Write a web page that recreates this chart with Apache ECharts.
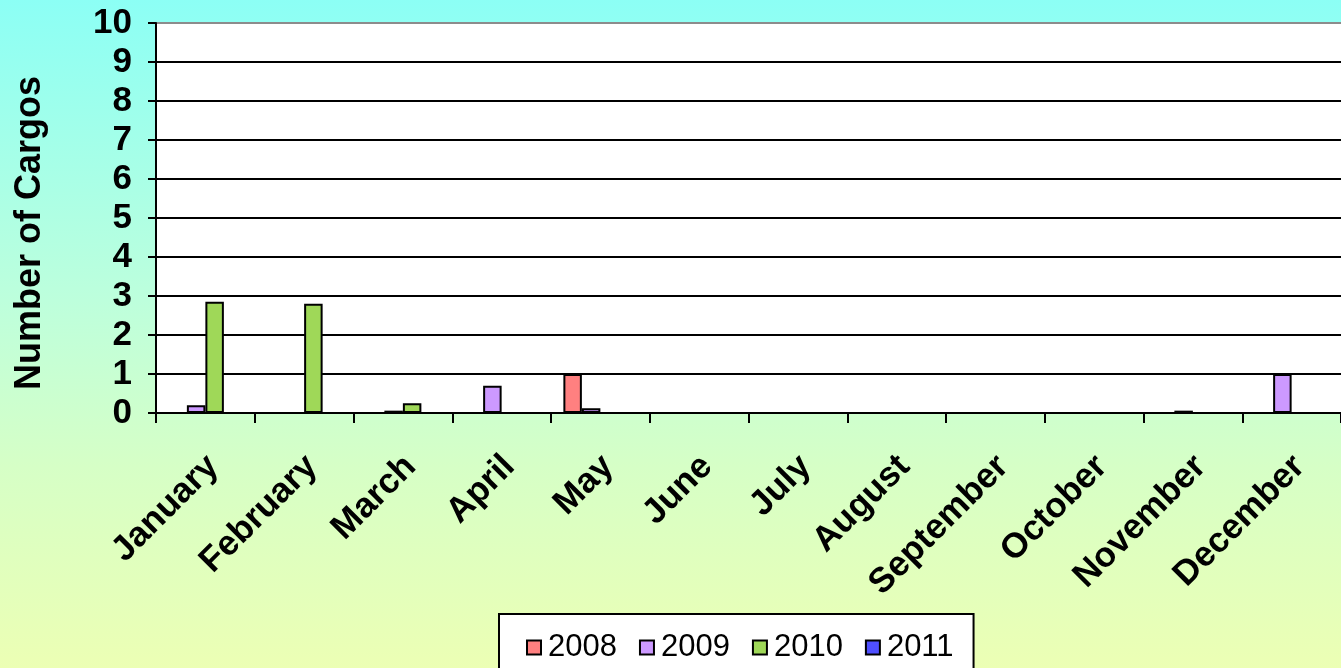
<!DOCTYPE html>
<html>
<head>
<meta charset="utf-8">
<script src="https://cdn.jsdelivr.net/npm/echarts@6/dist/echarts.min.js"></script>
<style>
	* { margin: 0; padding: 0; box-sizing: border-box; }
	html, body {
		width: 1341px;
		height: 668px;
		overflow: hidden;
		background: linear-gradient(to bottom, #8cfff5 0%, #bdffdc 45%, #d6ffc6 70%, #ecffb4 100%);
	}
	#chart { width: 1341px; height: 668px; }
</style>
</head>
<body>
<div id="chart"></div>
<script>
	// months on the x axis
	var months = ['January', 'February', 'March', 'April', 'May', 'June', 'July',
		'August', 'September', 'October', 'November', 'December'];
	var seriesNames = ['2008', '2009', '2010', '2011'];
	// number of cargos per month
	var data2008 = [0, 0, 0, 0, 1, 0, 0, 0, 0, 0, 0, 0];
	var data2009 = [0.2, 0, 0.06, 0.7, 0.12, 0, 0, 0, 0, 0, 0.06, 1];
	var data2010 = [2.85, 2.8, 0.25, 0, 0, 0, 0, 0, 0, 0, 0, 0];
	var data2011 = [0, 0, 0, 0, 0, 0, 0, 0, 0, 0, 0, 0];
	var colors = ['#ff8080', '#cc99ff', '#9fd858', '#4f4fff'];

	var font = '"Liberation Sans", Arial, sans-serif';
	var allData = [data2008, data2009, data2010, data2011];

	var series = [];
	for (var i = 0; i < seriesNames.length; i++) {
		series.push({
			name: seriesNames[i],
			type: 'bar',
			data: allData[i],
			barWidth: 18.5,
			barGap: '0%',
			itemStyle: {
				color: colors[i],
				borderColor: '#000',
				borderWidth: 2
			}
		});
	}

	// gridlines black, the top one (10) gray like the plot border
	var splitColors = [];
	for (var k = 0; k < 10; k++) splitColors.push('#000');
	splitColors.push('#8c8c8c');

	var chart = echarts.init(document.getElementById('chart'));
	chart.setOption({
		animation: false,
		textStyle: { fontFamily: font },
		grid: {
			left: 156,
			top: 23,
			right: -4,
			bottom: 255,
			show: true,
			backgroundColor: '#fff',
			borderWidth: 0
		},
		legend: {
			data: seriesNames,
			left: 499,
			top: 614,
			padding: [18, 20, 16, 27],
			backgroundColor: '#fff',
			borderColor: '#000',
			borderWidth: 2,
			borderRadius: 0,
			itemWidth: 14,
			itemHeight: 14,
			itemGap: 22,
			icon: 'rect',
			itemStyle: { borderColor: '#000', borderWidth: 2 },
			textStyle: { fontSize: 31, color: '#000', fontFamily: font, padding: [4, 0, 0, 2] }
		},
		xAxis: {
			type: 'category',
			data: months,
			axisLine: { lineStyle: { color: '#000', width: 2 } },
			axisTick: { show: true, length: 10, lineStyle: { color: '#000', width: 2 } },
			axisLabel: {
				interval: 0,
				rotate: 45,
				margin: 56,
				padding: [0, -11, 0, 0],
				color: '#000',
				fontSize: 35,
				fontWeight: 'bold',
				fontFamily: font
			}
		},
		yAxis: {
			type: 'value',
			min: 0,
			max: 10,
			interval: 1,
			name: 'Number of Cargos',
			nameLocation: 'middle',
			nameRotate: 90,
			nameGap: 108,
			nameTextStyle: { fontSize: 36, fontWeight: 'bold', color: '#000', fontFamily: font, padding: [0, 30, 0, 0] },
			axisLine: { show: true, lineStyle: { color: '#000', width: 2 } },
			axisTick: { show: true, length: 8, lineStyle: { color: '#000', width: 2 } },
			axisLabel: {
				margin: 24,
				color: '#000',
				fontSize: 35,
				fontWeight: 'bold',
				fontFamily: font
			},
			splitLine: { show: true, lineStyle: { color: splitColors, width: 2 } }
		},
		series: series
	});
</script>
</body>
</html>
